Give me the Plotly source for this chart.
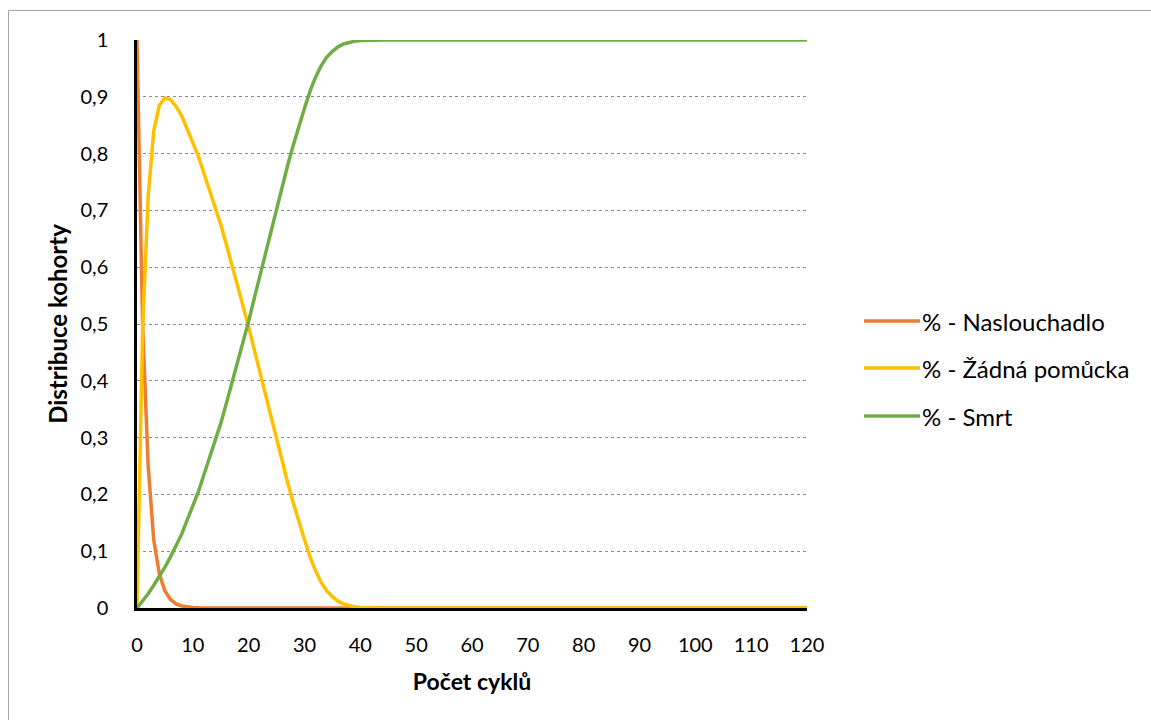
import plotly.graph_objects as go

cycles = list(range(0, 121))

naslouchadlo = [
    1.0, 0.5, 0.25, 0.12, 0.06, 0.03, 0.015, 0.007, 0.0035, 0.0017,
    0.0008, 0.0004, 0.0002, 0.0001, 0, 0, 0, 0, 0, 0,
    0, 0, 0, 0, 0, 0, 0, 0, 0, 0,
    0, 0, 0, 0, 0, 0, 0, 0, 0, 0,
    0, 0, 0, 0, 0, 0, 0, 0, 0, 0,
    0, 0, 0, 0, 0, 0, 0, 0, 0, 0,
    0, 0, 0, 0, 0, 0, 0, 0, 0, 0,
    0, 0, 0, 0, 0, 0, 0, 0, 0, 0,
    0, 0, 0, 0, 0, 0, 0, 0, 0, 0,
    0, 0, 0, 0, 0, 0, 0, 0, 0, 0,
    0, 0, 0, 0, 0, 0, 0, 0, 0, 0,
    0, 0, 0, 0, 0, 0, 0, 0, 0, 0,
    0,
]

zadna_pomucka = [
    0.0, 0.488, 0.725, 0.84, 0.885, 0.898, 0.895, 0.883, 0.8665, 0.843,
    0.819, 0.795, 0.765, 0.735, 0.705, 0.675, 0.64, 0.605, 0.57, 0.535,
    0.495, 0.455, 0.415, 0.375, 0.335, 0.295, 0.26, 0.22, 0.185, 0.15,
    0.12, 0.09, 0.065, 0.045, 0.03, 0.02, 0.012, 0.007, 0.004, 0.002,
    0.001, 0.0005, 0.0002, 0, 0, 0, 0, 0, 0, 0,
    0, 0, 0, 0, 0, 0, 0, 0, 0, 0,
    0, 0, 0, 0, 0, 0, 0, 0, 0, 0,
    0, 0, 0, 0, 0, 0, 0, 0, 0, 0,
    0, 0, 0, 0, 0, 0, 0, 0, 0, 0,
    0, 0, 0, 0, 0, 0, 0, 0, 0, 0,
    0, 0, 0, 0, 0, 0, 0, 0, 0, 0,
    0, 0, 0, 0, 0, 0, 0, 0, 0, 0,
    0,
]

smrt = [
    0.0, 0.012, 0.025, 0.04, 0.055, 0.072, 0.09, 0.11, 0.13, 0.155,
    0.18, 0.205, 0.235, 0.265, 0.295, 0.325, 0.36, 0.395, 0.43, 0.465,
    0.505, 0.545, 0.585, 0.625, 0.665, 0.705, 0.74, 0.78, 0.815, 0.85,
    0.88, 0.91, 0.935, 0.955, 0.97, 0.98, 0.988, 0.993, 0.996, 0.998,
    0.999, 0.9995, 0.9998, 1, 1, 1, 1, 1, 1, 1,
    1, 1, 1, 1, 1, 1, 1, 1, 1, 1,
    1, 1, 1, 1, 1, 1, 1, 1, 1, 1,
    1, 1, 1, 1, 1, 1, 1, 1, 1, 1,
    1, 1, 1, 1, 1, 1, 1, 1, 1, 1,
    1, 1, 1, 1, 1, 1, 1, 1, 1, 1,
    1, 1, 1, 1, 1, 1, 1, 1, 1, 1,
    1, 1, 1, 1, 1, 1, 1, 1, 1, 1,
    1,
]

series_names = ["% - Naslouchadlo", "% - Žádná pomůcka", "% - Smrt"]
series_colors = ["#ED7D31", "#FFC000", "#70AD47"]

x_tickvals = [0, 10, 20, 30, 40, 50, 60, 70, 80, 90, 100, 110, 120]
x_ticktext = ["0", "10", "20", "30", "40", "50", "60", "70", "80", "90", "100", "110", "120"]
y_tickvals = [0, 0.1, 0.2, 0.3, 0.4, 0.5, 0.6, 0.7, 0.8, 0.9, 1]
y_ticktext = ["0", "0,1", "0,2", "0,3", "0,4", "0,5", "0,6", "0,7", "0,8", "0,9", "1"]

FONT = "Lato, 'Open Sans', sans-serif"

fig = go.Figure()
for name, vals, col in zip(series_names, [naslouchadlo, zadna_pomucka, smrt], series_colors):
    fig.add_trace(go.Scatter(
        x=cycles, y=vals, mode="lines", name=name,
        line=dict(color=col, width=3.5), showlegend=False,
    ))

# plot area geometry (pixels)
L, R, T, B = 137, 807, 40, 608
W, H = R - L, B - T

def px_x(p):
    return (p - L) / W

def px_y(p):
    return (B - p) / H

shapes = []
# outer chart border
shapes.append(dict(type="rect", xref="paper", yref="paper",
                   x0=px_x(8.5), x1=px_x(1170), y0=px_y(10.5), y1=px_y(740),
                   line=dict(color="#A6A6A6", width=1), fillcolor="rgba(0,0,0,0)", layer="below"))

annotations = []
legend_y = [321, 368, 416]
for name, col, yy in zip(series_names, series_colors, legend_y):
    shapes.append(dict(type="line", xref="paper", yref="paper",
                       x0=px_x(864), x1=px_x(920), y0=px_y(yy), y1=px_y(yy),
                       line=dict(color=col, width=3.5)))
    annotations.append(dict(xref="paper", yref="paper", x=px_x(920), y=px_y(yy),
                            text=name, showarrow=False, xanchor="left", yanchor="middle",
                            font=dict(family=FONT, size=24, color="#000000")))

fig.update_layout(
    width=1151, height=720,
    margin=dict(l=L, r=1151 - R, t=T, b=720 - B),
    paper_bgcolor="white", plot_bgcolor="white",
    font=dict(family=FONT, size=20, color="#000000"),
    shapes=shapes, annotations=annotations,
    showlegend=False,
)
fig.update_xaxes(
    range=[0, 120], tickvals=x_tickvals, ticktext=x_ticktext,
    showgrid=False, zeroline=False,
    showline=True, linecolor="#000000", linewidth=2.5,
    ticks="", ticklabelstandoff=17,
    tickfont=dict(family=FONT, size=20),
    title=dict(text="<b>Počet cyklů</b>", font=dict(family=FONT, size=23), standoff=20),
)
fig.update_yaxes(
    range=[0, 1], tickvals=y_tickvals, ticktext=y_ticktext,
    showgrid=True, gridcolor="#8C8C8C", gridwidth=1, griddash="dot",
    zeroline=False,
    showline=True, linecolor="#000000", linewidth=2.5,
    ticks="", ticklabelstandoff=22,
    tickfont=dict(family=FONT, size=20),
    title=dict(text="<b>Distribuce kohorty</b>", font=dict(family=FONT, size=24), standoff=7),
)

fig.write_html("out.html")
